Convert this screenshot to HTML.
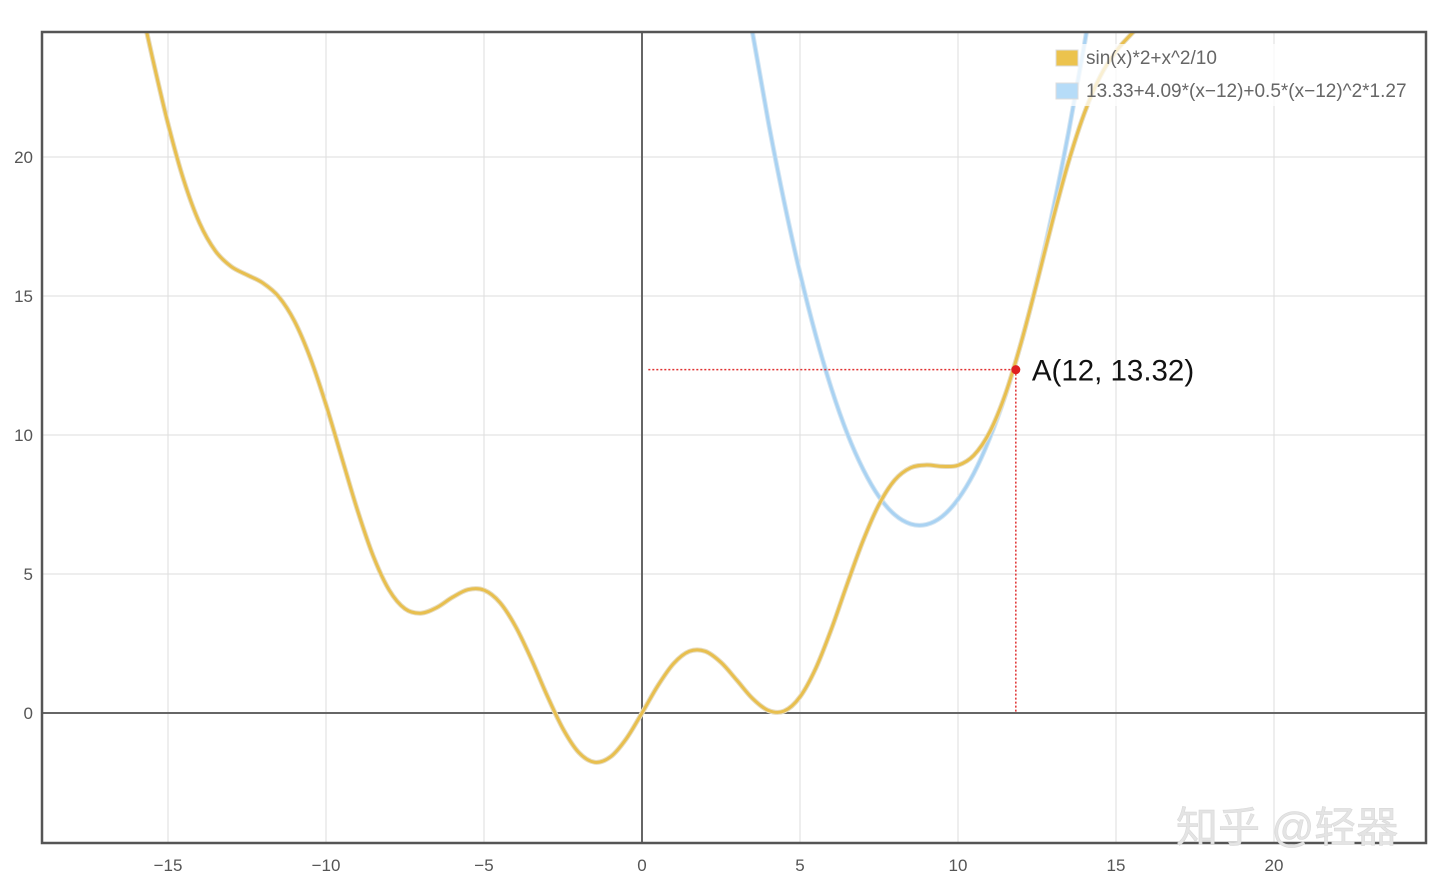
<!DOCTYPE html>
<html><head><meta charset="utf-8"><style>
html,body{margin:0;padding:0;background:#fff;}
svg{display:block;font-family:"Liberation Sans","Noto Sans CJK SC",sans-serif;}
</style></head><body>
<svg id="chart" width="1440" height="886"></svg>
<script>
const xTicks=[-15,-10,-5,0,5,10,15,20];
const xTickLabels=["\u221215","\u221210","\u22125","0","5","10","15","20"];
const yTicks=[0,5,10,15,20];
const yTickLabels=["0","5","10","15","20"];
const fX=[-16,-15.5,-15,-14.5,-14,-13.5,-13,-12.5,-12,-11.5,-11,-10.5,-10,-9.5,-9,-8.5,-8,-7.5,-7,-6.5,-6,-5.5,-5,-4.5,-4,-3.5,-3,-2.5,-2,-1.5,-1,-0.5,0,0.5,1,1.5,2,2.5,3,3.5,4,4.5,5,5.5,6,6.5,7,7.5,8,8.5,9,9.5,10,10.5,11,11.5,12,12.5,13,13.5,14,14.5,15,15.5,16];
const fY=[26.18,23.61,21.20,19.16,17.62,16.62,16.06,15.76,15.47,14.98,14.10,12.78,11.09,9.18,7.28,5.63,4.42,3.75,3.59,3.79,4.16,4.44,4.42,3.98,3.11,1.93,0.62,-0.57,-1.42,-1.77,-1.58,-0.93,0,0.98,1.78,2.22,2.22,1.82,1.18,0.52,0.09,0.07,0.58,1.61,3.04,4.66,6.21,7.50,8.38,8.82,8.92,8.87,8.91,9.27,10.10,11.47,13.33,15.49,17.74,19.83,21.58,22.90,23.80,24.44,25.02];
const gX=[3,3.5,4,4.5,5,5.5,6,6.5,7,7.5,8,8.5,9,9.5,10,10.5,11,11.5,12,12.5,13,13.5,14,14.5];
const gY=[27.96,24.45,21.25,18.38,15.82,13.58,11.65,10.04,8.76,7.78,7.13,6.80,6.78,7.07,7.69,8.62,9.88,11.44,13.33,15.53,18.06,20.90,24.05,27.53];
const pointA=[11.83,12.35];
const pointLabel="A(12, 13.32)";

const NS="http://www.w3.org/2000/svg";
const svg=document.getElementById('chart');
const L=42,R=1426,T=32,B=843;
const sx=v=>642+v*31.6;
const sy=v=>713-v*27.8;
function mk(tag,attrs,parent){const e=document.createElementNS(NS,tag);for(const k in attrs)e.setAttribute(k,attrs[k]);(parent||svg).appendChild(e);return e;}
const defs=mk('defs',{});
const cp=mk('clipPath',{id:'clip'},defs);mk('rect',{x:L,y:T,width:R-L,height:B-T},cp);

const grid=mk('g',{});


xTicks.forEach((t,i)=>{
  if(t!==0){const l=mk('line',{x1:sx(t),x2:sx(t),y1:T,y2:B,stroke:'#dedede','stroke-width':1},grid);
  }
  const tx=mk('text',{x:sx(t),y:871,'text-anchor':'middle','font-size':17,fill:'#555'});
  
  tx.textContent=xTickLabels[i];
});
yTicks.forEach((t,i)=>{
  if(t!==0){const l=mk('line',{x1:L,x2:R,y1:sy(t),y2:sy(t),stroke:'#dedede','stroke-width':1},grid);
  }
  const tx=mk('text',{x:33,y:sy(t)+6,'text-anchor':'end','font-size':17,fill:'#555'});
  
  tx.textContent=yTickLabels[i];
});
const xa=mk('line',{x1:L,x2:R,y1:sy(0),y2:sy(0),stroke:'#666','stroke-width':2});

const ya=mk('line',{x1:sx(0),x2:sx(0),y1:T,y2:B,stroke:'#666','stroke-width':2});


function pathFrom(xs,ys){
  const p=xs.map((x,i)=>[sx(x),sy(ys[i])]);
  let d='M'+p[0][0]+','+p[0][1];
  for(let i=0;i<p.length-1;i++){
    const p0=p[i-1]||p[i],p1=p[i],p2=p[i+1],p3=p[i+2]||p2;
    const c1=[p1[0]+(p2[0]-p0[0])/6,p1[1]+(p2[1]-p0[1])/6];
    const c2=[p2[0]-(p3[0]-p1[0])/6,p2[1]-(p3[1]-p1[1])/6];
    d+=' C'+c1[0]+','+c1[1]+' '+c2[0]+','+c2[1]+' '+p2[0]+','+p2[1];
  }
  return d;
}
const cg=mk('g',{'clip-path':'url(#clip)'});
const gs=mk('path',{d:pathFrom(gX,gY),fill:'none',stroke:'#d5e6f3','stroke-width':5},cg);

const g=mk('path',{d:pathFrom(gX,gY),fill:'none',stroke:'#a9d2f2','stroke-width':3},cg);

const fs=mk('path',{d:pathFrom(fX,fY),fill:'none',stroke:'#e6dcc0','stroke-width':5},cg);

const f=mk('path',{d:pathFrom(fX,fY),fill:'none',stroke:'#e8bf4e','stroke-width':3},cg);


const h=mk('line',{x1:sx(0.2),x2:sx(pointA[0]),y1:sy(pointA[1]),y2:sy(pointA[1]),stroke:'#e03030','stroke-width':1.5,'stroke-dasharray':'2,2'});

const v=mk('line',{x1:sx(pointA[0]),x2:sx(pointA[0]),y1:sy(pointA[1]),y2:sy(0),stroke:'#e03030','stroke-width':1.5,'stroke-dasharray':'2,2'});

const pc=mk('circle',{cx:sx(pointA[0]),cy:sy(pointA[1]),r:4.5,fill:'#e02020'});

const pl=mk('text',{x:sx(pointA[0])+16,y:sy(pointA[1])+11,'font-size':29.5,fill:'#111'});

pl.textContent=pointLabel;

const border=mk('rect',{x:L,y:T,width:R-L,height:B-T,fill:'none',stroke:'#555','stroke-width':2.5});


const leg=mk('g',{});

mk('rect',{x:1050,y:44,width:368,height:62,fill:'#fff','fill-opacity':0.75},leg);
[["#ecc34d","sin(x)*2+x^2/10",58],["#b6dcf8","13.33+4.09*(x\u221212)+0.5*(x\u221212)^2*1.27",91]].forEach(e=>{
  const r=mk('rect',{x:1056,y:e[2]-8,width:22,height:16,fill:e[0],stroke:'#ddd','stroke-width':1},leg);
  
  const t=mk('text',{x:1086,y:e[2]+6,'font-size':19,fill:'#666'},leg);
  
  t.textContent=e[1];
});
const wm=mk('text',{x:1176,y:842,'font-size':42,fill:'#e4e4e4',stroke:'#d8d8d8','stroke-width':0.6});

wm.textContent="知乎 @轻器";
</script>
</body></html>
